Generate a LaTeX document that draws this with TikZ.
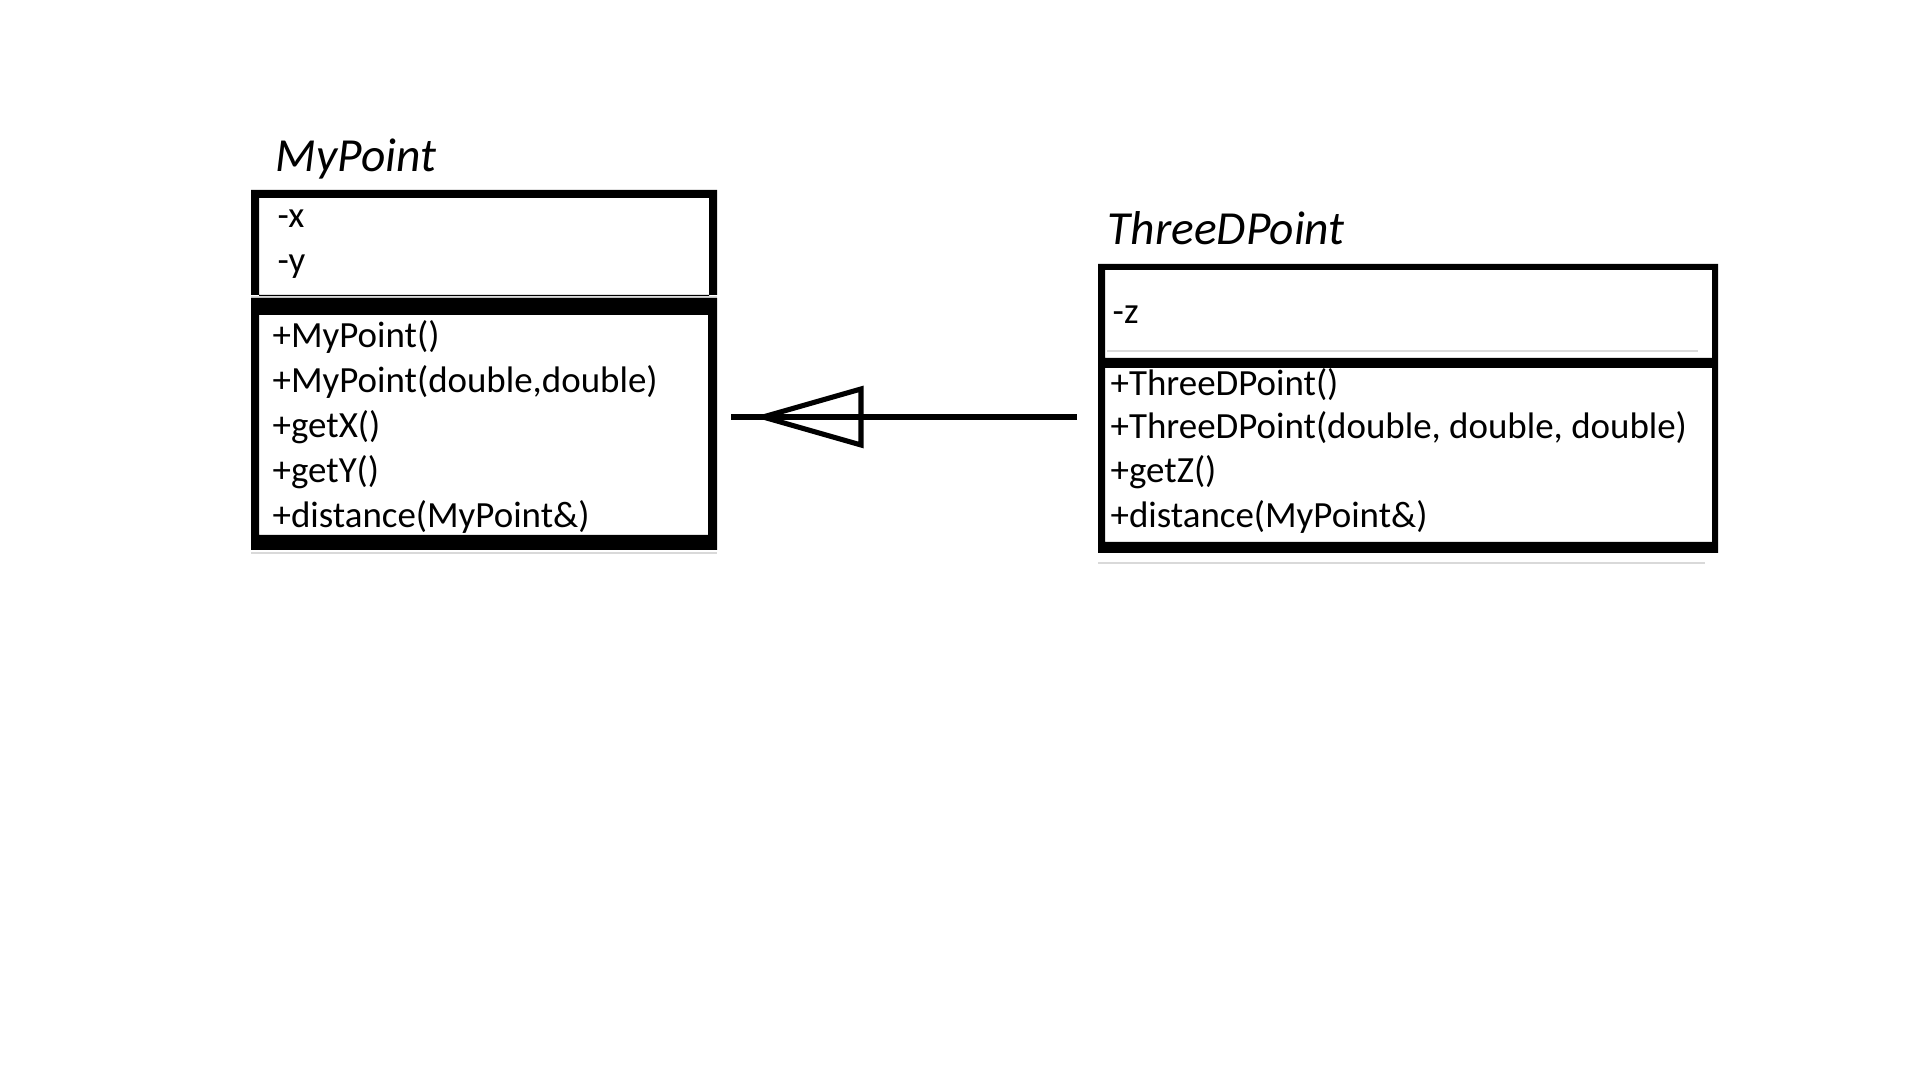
\documentclass[tikz,border=0pt]{standalone}
\usepackage{fontspec}
\setmainfont{Carlito}
\begin{document}
\begin{tikzpicture}[x=0.01cm,y=-0.01cm,
  member/.style={anchor=base west, inner sep=0pt, font=\fontsize{10.5pt}{12pt}\selectfont},
  classname/.style={anchor=base west, inner sep=0pt, font=\fontsize{13.5pt}{15pt}\selectfont\itshape},
  frame/.style={fill=black, even odd rule},
  faint/.style={draw=black!15, line width=0.3pt},
  link/.style={draw=black, line width=1.45pt}]
\useasboundingbox[fill=white] (0,0) rectangle (1920,1080);

% ---- MyPoint ----
\node[classname] (mpname) at (275,172) {MyPoint};
\fill[frame] (251,190) rectangle (717,295) (259,198) rectangle (709,296);
\draw[faint] (251,297) -- (717,297);
\fill[frame] (251,298) rectangle (717,550) (259,315) rectangle (708,535);
\draw[faint] (251,553) -- (717,553);
\node[member] (mpx) at (277,228) {-x};
\node[member] (mpy) at (277,273) {-y};
\node[member] (mpm1) at (272,348) {+MyPoint()};
\node[member] (mpm2) at (272,393) {+MyPoint(double,double)};
\node[member] (mpm3) at (272,438) {+getX()};
\node[member] (mpm4) at (272,483) {+getY()};
\node[member] (mpm5) at (272,528) {+distance(MyPoint\&)};

% ---- ThreeDPoint ----
\node[classname] (tdname) at (1107,245) {ThreeDPoint};
\fill[frame] (1098,264) rectangle (1718,553) (1105,270) rectangle (1712,358) (1105,368) rectangle (1712,542);
\draw[faint] (1107,351) -- (1698,351);
\draw[faint] (1098,563) -- (1705,563);
\node[member] (tdz) at (1112,324) {-z};
\node[member] (tdm1) at (1110,396) {+ThreeDPoint()};
\node[member] (tdm2) at (1110,439) {+ThreeDPoint(double, double, double)};
\node[member] (tdm3) at (1110,483) {+getZ()};
\node[member] (tdm4) at (1110,528) {+distance(MyPoint\&)};

% ---- generalization ----
\coordinate (genL) at (731,417);
\coordinate (genR) at (1077,417);
\coordinate (tip) at (763,417);
\coordinate (baseT) at (861,389);
\coordinate (baseB) at (861,445);
\draw[link] (genR) -- (genL);
\draw[link] (tip) -- (baseT) -- (baseB) -- cycle;
\end{tikzpicture}
\end{document}
